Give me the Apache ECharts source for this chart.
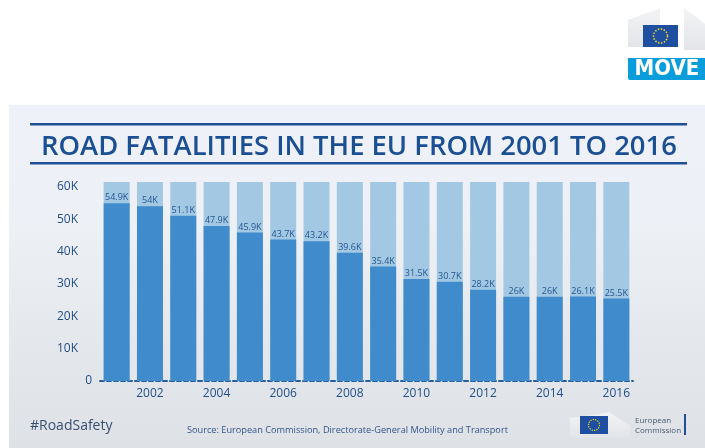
<!DOCTYPE html>
<html>
<head>
<meta charset="utf-8">
<script src="https://cdn.jsdelivr.net/npm/echarts@6/dist/echarts.min.js"></script>
<style>
html,body{margin:0;padding:0;background:#fff;}
#c{width:705px;height:448px;}
</style>
</head>
<body>
<div id="c"></div>
<script>
var years = ['2001','2002','2003','2004','2005','2006','2007','2008','2009','2010','2011','2012','2013','2014','2015','2016'];
var fatalities = [54900, 54000, 51100, 47900, 45900, 43700, 43200, 39600, 35400, 31500, 30700, 28200, 26000, 26000, 26100, 25500];
var valueLabels = ['54.9K','54K','51.1K','47.9K','45.9K','43.7K','43.2K','39.6K','35.4K','31.5K','30.7K','28.2K','26K','26K','26.1K','25.5K'];
var yTickLabels = {10000:'10K',20000:'20K',30000:'30K',40000:'40K',50000:'50K',60000:'60K'};
var zeroLabel = '0';
var titleText = 'ROAD FATALITIES IN THE EU FROM 2001 TO 2016';
var sourceText = 'Source: European Commission, Directorate-General Mobility and Transport';
var hashtag = '#RoadSafety';

var chart = echarts.init(document.getElementById('c'), null, {renderer:'canvas'});
var textBlue = '#234f8a';
var buildingFill = {type:'linear',x:0,y:0,x2:0,y2:1,colorStops:[{offset:0,color:'#f2f3f5'},{offset:1,color:'#e3e5e8'}]};
var yBase = {
  type: 'value', position: 'left',
  min: 0, max: 61500, interval: 10000,
  splitLine: {show:false}, axisLine: {show:false}, axisTick: {show:false}
};
var option = {
  animation: false,
  backgroundColor: '#ffffff',
  graphic: [
    {type:'rect', z:-10, shape:{x:9,y:105,width:696,height:343},
     style:{fill:{type:'linear',x:0,y:0,x2:0,y2:1,colorStops:[
       {offset:0,color:'#eef1f9'},{offset:0.35,color:'#edf0f5'},{offset:0.7,color:'#e4e8ec'},{offset:1,color:'#dee2e6'}]}}},
    {type:'rect', shape:{x:30,y:123,width:657,height:2.5}, style:{fill:'#1d5096'}},
    {type:'rect', shape:{x:30,y:162,width:657,height:2.5}, style:{fill:'#1d5096'}},
    // MOVE logo
    {type:'polygon', shape:{points:[[628,20],[650,12],[660,8],[660,25],[643,25],[643,47],[628,47]]}, style:{fill:buildingFill}},
    {type:'polygon', shape:{points:[[684,8],[700,20],[705,24],[705,50],[684,50]]}, style:{fill:buildingFill}},
    {type:'rect', shape:{x:643,y:25,width:35,height:22}, style:{fill:'#1f4fa0'}},
    {type:'circle', shape:{cx:660.5,cy:36,r:7}, style:{fill:'none',stroke:'#f5d823',lineWidth:1.5,lineDash:[1.5,1.5]}},
    {type:'rect', shape:{x:628,y:58,width:77,height:22,r:[0,0,0,2]}, style:{fill:'#0a9ddb'}},
    {type:'text', x:667, y:69.5, style:{text:'MOVE', fill:'#fff', align:'center', verticalAlign:'middle', font:'bold 22px "DejaVu Sans Condensed", "Liberation Sans Narrow", sans-serif'}},
    // footer
    {type:'text', left:30, top:419, style:{text:hashtag, fill:'#3a4f70', font:'14px "Open Sans", sans-serif'}},
    {type:'text', left:187, top:426, style:{text:sourceText, fill:'#34558a', font:'9.2px "Open Sans", sans-serif'}},
    {type:'polygon', shape:{points:[[570,418],[600,414],[610,412],[612,414],[630,426],[630,437],[570,437]]}, style:{fill:buildingFill}},
    {type:'rect', shape:{x:580,y:416,width:28,height:18}, style:{fill:'#1f4fa0'}},
    {type:'circle', shape:{cx:594,cy:425,r:5.5}, style:{fill:'none',stroke:'#f5d823',lineWidth:1.2,lineDash:[1.2,1.2]}},
    {type:'text', left:635, top:416, style:{text:'European\nCommission', fill:'#4a5a70', font:'8px "Open Sans", sans-serif', lineHeight:10}},
    {type:'rect', shape:{x:684,y:414,width:2,height:21}, style:{fill:'#1d5096'}}
  ],
  title: {
    text: titleText,
    left: 36,
    top: 129,
    textStyle: {color:'#1b4f93', fontSize:27.4, fontWeight:600, fontFamily:'"Open Sans", sans-serif'}
  },
  grid: {left:100, right:72, top:182, bottom:67, containLabel:false},
  xAxis: {
    type: 'category',
    data: years,
    axisLine: {show:true, lineStyle:{color:'#2a5d9e', width:2, type:[4,3]}},
    axisTick: {show:false},
    axisLabel: {
      interval: function(i){ return i % 2 === 1; },
      color: textBlue, fontSize: 12, margin: 7,
      fontFamily: '"Open Sans", sans-serif'
    }
  },
  yAxis: [
    Object.assign({}, yBase, {
      axisLabel: {
        showMaxLabel: false, showMinLabel: false,
        color: textBlue, fontSize: 12, margin: 22,
        fontFamily: '"Open Sans", sans-serif',
        formatter: function(v){ return yTickLabels[v] !== undefined ? yTickLabels[v] : ''; }
      }
    }),
    Object.assign({}, yBase, {
      axisLabel: {
        showMaxLabel: false,
        color: textBlue, fontSize: 12, margin: 8,
        fontFamily: '"Open Sans", sans-serif',
        formatter: function(v){ return v === 0 ? zeroLabel : ''; }
      }
    })
  ],
  series: [{
    type: 'bar',
    yAxisIndex: 0,
    data: fatalities,
    barCategoryGap: '22%',
    showBackground: true,
    backgroundStyle: {color:'#a3c8e3'},
    itemStyle: {color:'#3f8bcc'},
    label: {
      show: true, position: 'top', distance: 1,
      color: '#24568f', fontSize: 9,
      fontFamily: '"Open Sans", sans-serif',
      formatter: function(p){ return valueLabels[p.dataIndex]; }
    }
  }]
};
chart.setOption(option);
</script>
</body>
</html>
